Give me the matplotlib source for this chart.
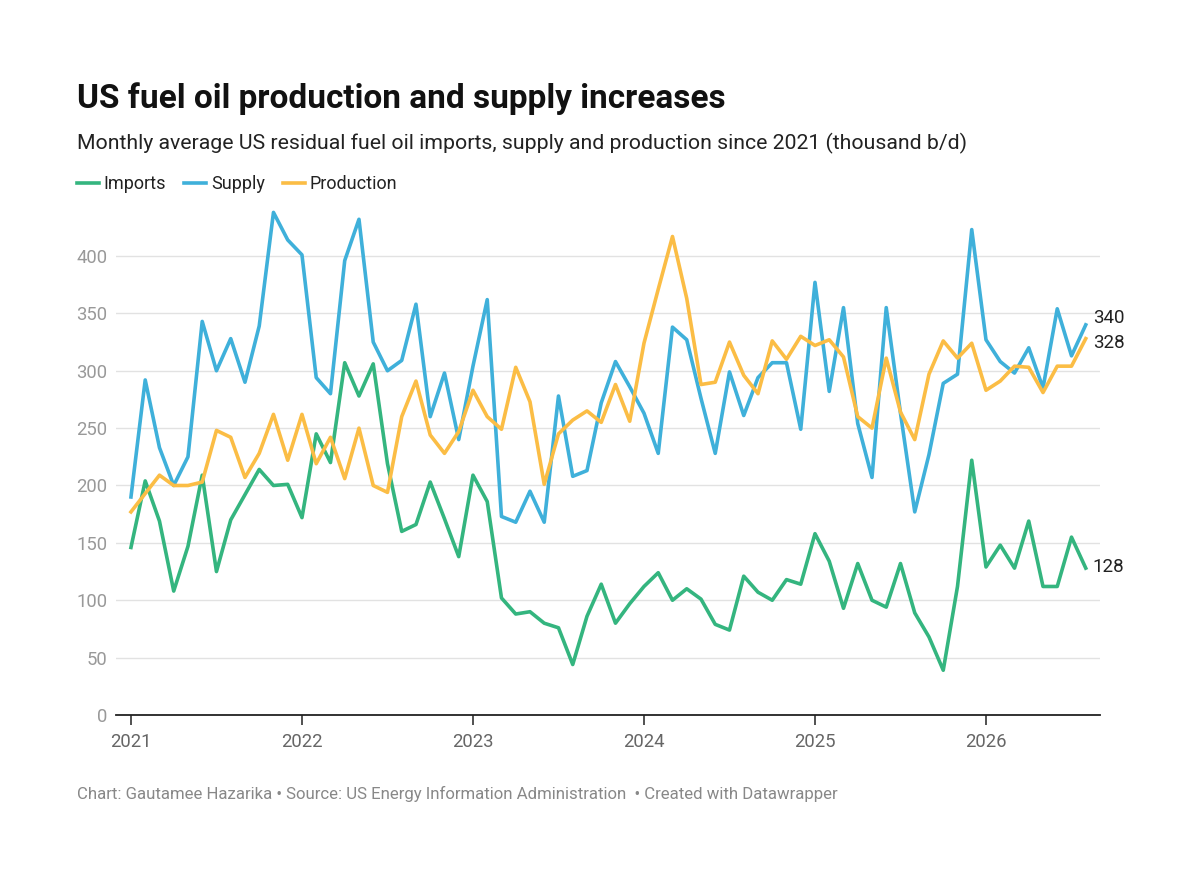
import numpy as np
import matplotlib.pyplot as plt

plt.rcParams['font.family'] = ['Roboto', 'DejaVu Sans']

# monthly values, Jan 2021 .. Aug 2026 (thousand b/d)
imports = [146, 204, 169, 108, 147, 209, 125, 170, 192, 214, 200, 201,
           172, 245, 220, 307, 278, 306, 219, 160, 166, 203, 171, 138,
           209, 186, 102, 88, 90, 80, 76, 44, 86, 114, 80, 97,
           112, 124, 100, 110, 101, 79, 74, 121, 107, 100, 118, 114,
           158, 134, 93, 132, 100, 94, 132, 89, 68, 39, 112, 222,
           129, 148, 128, 169, 112, 112, 155, 128]
supply = [190, 292, 233, 200, 225, 343, 300, 328, 290, 339, 438, 414,
          401, 294, 280, 396, 432, 325, 300, 309, 358, 260, 298, 240,
          304, 362, 173, 168, 195, 168, 278, 208, 213, 272, 308, 286,
          263, 228, 338, 327, 276, 228, 299, 261, 294, 307, 307, 249,
          377, 282, 355, 254, 207, 355, 263, 177, 227, 289, 297, 423,
          327, 308, 298, 320, 285, 354, 313, 340]
production = [177, 193, 209, 200, 200, 203, 248, 242, 207, 228, 262, 222,
              262, 219, 242, 206, 250, 200, 194, 260, 291, 244, 228, 247,
              283, 260, 249, 303, 273, 201, 245, 257, 265, 255, 288, 256,
              324, 371, 417, 363, 288, 290, 325, 296, 280, 326, 310, 330,
              322, 327, 312, 260, 250, 311, 264, 240, 297, 326, 311, 324,
              283, 291, 304, 303, 281, 304, 304, 328]
years = ['2021', '2022', '2023', '2024', '2025', '2026']
yticks = [0, 50, 100, 150, 200, 250, 300, 350, 400]

green = '#34b57f'
blue = '#3fb0da'
orange = '#fbbd45'

months = np.arange(len(supply))

fig = plt.figure(figsize=(12, 8.8), dpi=100)
ax = fig.add_axes([116/1200, 165/880, 984/1200, 515/880])

l1, = ax.plot(months, imports, color=green, lw=2.6, label='Imports')
l2, = ax.plot(months, supply, color=blue, lw=2.6, label='Supply')
l3, = ax.plot(months, production, color=orange, lw=2.6, label='Production')

ax.set_xlim(-1.05, 68.0)
ax.set_ylim(0, 448.8)

ax.set_yticks(yticks)
ax.set_yticklabels([str(v) for v in yticks])
ax.set_xticks(np.arange(len(years)) * 12)
ax.set_xticklabels(years)
ax.tick_params(axis='y', length=0, pad=6, labelsize=13.3, labelcolor='#999999')
ax.tick_params(axis='x', length=7, width=1.2, color='#333333', pad=6,
               labelsize=13.3, labelcolor='#666666')

ax.grid(axis='y', color='#e2e2e2', lw=1)
ax.set_axisbelow(True)
for s in ['top', 'right', 'left']:
    ax.spines[s].set_visible(False)
ax.spines['bottom'].set_color('#222222')
ax.spines['bottom'].set_linewidth(1.3)
ax.spines['bottom'].set_zorder(5)

# end labels
last = months[-1]
ax.annotate(str(supply[-1]), (last, supply[-1]), xytext=(5, 5), textcoords='offset points',
            va='center', fontsize=13.5, color='#222222')
ax.annotate(str(production[-1]), (last, production[-1]), xytext=(5, -3), textcoords='offset points',
            va='center', fontsize=13.5, color='#222222')
ax.annotate(str(imports[-1]), (last, imports[-1]), xytext=(5, 1), textcoords='offset points',
            va='center', fontsize=13.5, color='#222222')

fig.text(77/1200, 1 - 108/880, 'US fuel oil production and supply increases',
         fontsize=24, fontweight='bold', color='#111111', va='baseline')
fig.text(77/1200, 1 - 149/880,
         'Monthly average US residual fuel oil imports, supply and production since 2021 (thousand b/d)',
         fontsize=15.3, color='#222222', va='baseline')
fig.legend(handles=[l1, l2, l3], loc='center left', bbox_to_anchor=(77/1200, 1 - 184/880),
           ncol=3, frameon=False, fontsize=13, handlelength=1.2, handletextpad=0.28,
           columnspacing=1.0, borderpad=0, borderaxespad=0, labelcolor='#222222')
fig.text(77/1200, 1 - 799/880,
         'Chart: Gautamee Hazarika \u2022 Source: US Energy Information Administration  \u2022 Created with Datawrapper',
         fontsize=12.1, color='#888888', va='baseline')

fig.savefig('out.png', dpi=100, facecolor='white')
